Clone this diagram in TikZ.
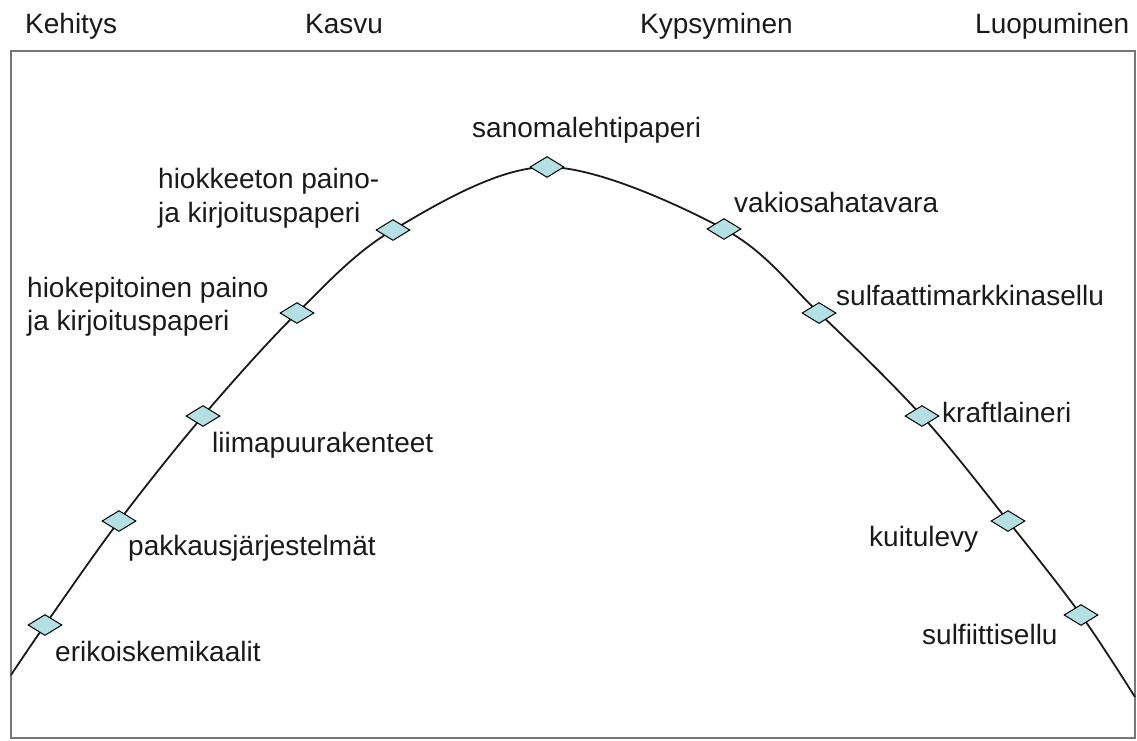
\documentclass[tikz,border=0pt]{standalone}
\usepackage{fontspec}
\setmainfont{Liberation Sans}
\usetikzlibrary{shapes.geometric}
\definecolor{txt}{HTML}{1A1A1A}
\definecolor{frame}{HTML}{767676}
\definecolor{dfill}{HTML}{B4E0E4}
\tikzset{
  lbl/.style={anchor=base west, inner sep=0pt, text=txt, font=\fontsize{28}{33}\selectfont},
  pt/.style={shape=diamond, draw=black, fill=dfill, line width=1pt, minimum width=34pt, minimum height=21pt, inner sep=0pt, shape aspect=1.6},
  curve/.style={draw=txt, line width=1.8pt},
  frm/.style={draw=frame, line width=2pt}
}
\begin{document}
\begin{tikzpicture}[x=1pt,y=-1pt]
\useasboundingbox (0,0) rectangle (1137,740);
\draw[frm] (11,51) rectangle (1135,738);
\coordinate (cs) at (11,675);
\coordinate (ce) at (1135,697);
\draw[curve] plot[smooth, tension=0.55] coordinates {(11,675) (45,625) (119,521) (203,416) (297,313) (393,230) (547,167) (724,229) (819,313) (922,416) (1008,521) (1081,615) (1135,697)};
\node[pt] (p1) at (45,625) {};
\node[pt] (p2) at (119,521) {};
\node[pt] (p3) at (203,416) {};
\node[pt] (p4) at (297,313) {};
\node[pt] (p5) at (393,230) {};
\node[pt] (p6) at (547,167) {};
\node[pt] (p7) at (724,229) {};
\node[pt] (p8) at (819,313) {};
\node[pt] (p9) at (922,416) {};
\node[pt] (p10) at (1008,521) {};
\node[pt] (p11) at (1081,615) {};
\node[lbl] (h1) at (25,33) {Kehitys};
\node[lbl] (h2) at (305,33) {Kasvu};
\node[lbl] (h3) at (640,33) {Kypsyminen};
\node[lbl] (h4) at (975,33) {Luopuminen};
\node[lbl] (t6) at (472,137) {sanomalehtipaperi};
\node[lbl] (t5a) at (158,188) {hiokkeeton paino-};
\node[lbl] (t5b) at (158,222) {ja kirjoituspaperi};
\node[lbl] (t4a) at (27,297) {hiokepitoinen paino};
\node[lbl] (t4b) at (27,330) {ja kirjoituspaperi};
\node[lbl] (t3) at (212,452) {liimapuurakenteet};
\node[lbl] (t2) at (128,555) {pakkausjärjestelmät};
\node[lbl] (t1) at (55,661) {erikoiskemikaalit};
\node[lbl] (t7) at (734,212) {vakiosahatavara};
\node[lbl] (t8) at (836,305) {sulfaattimarkkinasellu};
\node[lbl] (t9) at (942,422) {kraftlaineri};
\node[lbl] (t10) at (869,546) {kuitulevy};
\node[lbl] (t11) at (922,644) {sulfiittisellu};
\end{tikzpicture}
\end{document}
